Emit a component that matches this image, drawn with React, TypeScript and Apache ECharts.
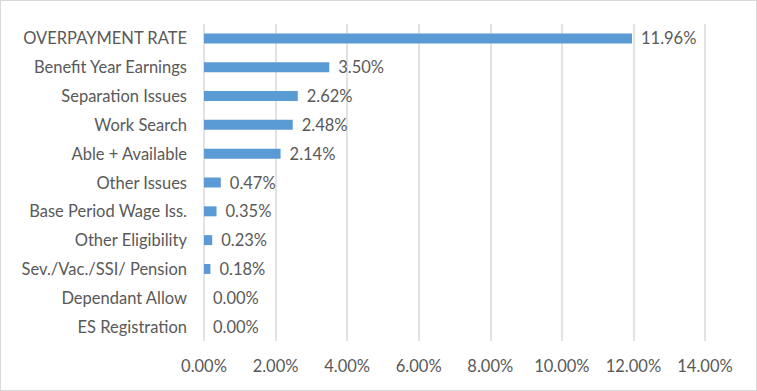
import React, { useEffect, useRef } from "react";
import * as echarts from "echarts";

const categories = [
  "OVERPAYMENT RATE",
  "Benefit Year Earnings",
  "Separation Issues",
  "Work Search",
  "Able + Available",
  "Other Issues",
  "Base Period Wage Iss.",
  "Other Eligibility",
  "Sev./Vac./SSI/ Pension",
  "Dependant Allow",
  "ES Registration",
];
const values = [11.96, 3.5, 2.62, 2.48, 2.14, 0.47, 0.35, 0.23, 0.18, 0.0, 0.0];

const FONT = "Lato, 'Noto Sans', sans-serif";
const TEXT = "#595959";
const FS = 16.5;

export default function App() {
  const ref = useRef<HTMLDivElement>(null);
  useEffect(() => {
    document.body.style.margin = "0";
    const chart = echarts.init(ref.current!, null, { renderer: "svg" });
    chart.setOption({
      animation: false,
      grid: { left: 203, right: 51, top: 23, bottom: 49, containLabel: false },
      xAxis: {
        type: "value",
        min: 0,
        max: 14,
        interval: 2,
        axisLine: { show: false },
        axisTick: { show: false },
        splitLine: { show: true, lineStyle: { color: "#d9d9d9", width: 1.5 } },
        axisLabel: {
          formatter: (v: number) => v.toFixed(2) + "%",
          color: TEXT,
          fontFamily: FONT,
          fontSize: FS,
          margin: 16,
        },
      },
      yAxis: {
        type: "category",
        data: categories,
        inverse: true,
        axisLine: { show: false },
        axisTick: { show: false },
        axisLabel: {
          color: TEXT,
          fontFamily: FONT,
          fontSize: FS,
          margin: 17,
        },
      },
      series: [
        {
          type: "bar",
          data: values,
          barWidth: 10,
          itemStyle: { color: "#5b9bd5" },
          label: {
            show: true,
            position: "right",
            distance: 9,
            formatter: (p: any) => p.value.toFixed(2) + "%",
            color: TEXT,
            fontFamily: FONT,
            fontSize: FS,
          },
        },
      ],
    });
    return () => chart.dispose();
  }, []);
  return (
    <div
      style={{
        position: "fixed",
        left: 0,
        top: 0,
        width: 757,
        height: 391,
        border: "1px solid #d9d9d9",
        boxSizing: "border-box",
        background: "#fff",
      }}
    >
      <div ref={ref} style={{ width: 755, height: 389 }} />
    </div>
  );
}
